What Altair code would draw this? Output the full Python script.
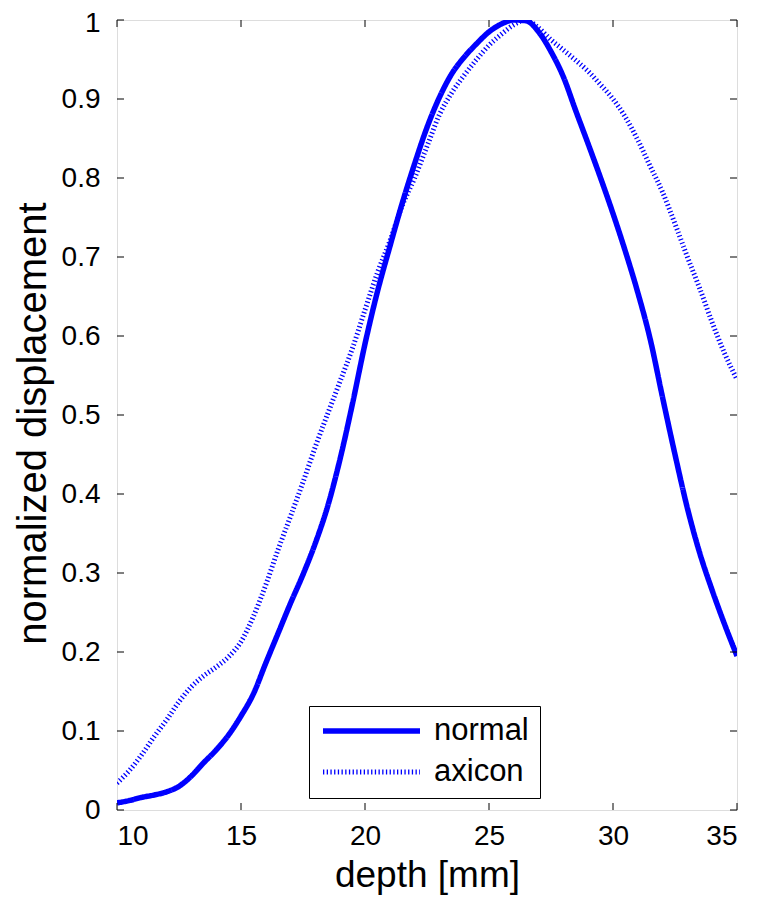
import altair as alt
import pandas as pd

# ---- data ----
series_names = ["normal", "axicon"]

depth_normal = [10, 10.5, 11, 11.5, 12, 12.5, 13, 13.5, 14, 14.5, 15, 15.5, 16, 16.5,
                17, 17.5, 18, 18.5, 19, 19.5, 20, 20.5, 21, 21.5, 22, 22.5, 23, 23.5,
                24, 24.5, 25, 25.5, 26, 26.5, 27, 27.5, 28, 28.5, 29, 29.5, 30, 30.5,
                31, 31.5, 32, 32.5, 33, 33.5, 34, 34.5, 35]
normal_vals = [0.009, 0.012, 0.016, 0.019, 0.023, 0.030, 0.043, 0.060, 0.076, 0.095,
               0.119, 0.147, 0.186, 0.224, 0.262, 0.298, 0.338, 0.385, 0.445, 0.515,
               0.590, 0.656, 0.713, 0.768, 0.818, 0.864, 0.902, 0.932, 0.953, 0.970,
               0.985, 0.995, 1.000, 0.999, 0.985, 0.960, 0.928, 0.885, 0.843, 0.800,
               0.755, 0.707, 0.655, 0.596, 0.522, 0.450, 0.382, 0.325, 0.278, 0.235,
               0.195]

depth_axicon = depth_normal
axicon_vals = [0.034, 0.050, 0.070, 0.093, 0.114, 0.137, 0.156, 0.170, 0.181, 0.194,
               0.213, 0.245, 0.285, 0.330, 0.372, 0.415, 0.460, 0.502, 0.543, 0.585,
               0.633, 0.680, 0.720, 0.765, 0.800, 0.840, 0.880, 0.908, 0.930, 0.950,
               0.968, 0.982, 0.994, 1.000, 0.990, 0.975, 0.962, 0.949, 0.935, 0.918,
               0.900, 0.877, 0.848, 0.815, 0.782, 0.742, 0.700, 0.660, 0.617, 0.578,
               0.545]

x_ticks = [10, 15, 20, 25, 30, 35]
y_ticks = [0, 0.1, 0.2, 0.3, 0.4, 0.5, 0.6, 0.7, 0.8, 0.9, 1]

df_normal = pd.DataFrame({"depth": depth_normal, "value": normal_vals, "series": "normal"})
df_axicon = pd.DataFrame({"depth": depth_axicon, "value": axicon_vals, "series": "axicon"})
df_xt = pd.DataFrame({"depth": x_ticks})
df_yt = pd.DataFrame({"value": y_ticks})

W, H = 620, 790
TL = 7
FONT = "Liberation Sans"

xs = alt.Scale(domain=[10, 35], nice=False, zero=False)
ys = alt.Scale(domain=[0, 1], nice=False, zero=False)

x_enc = alt.X("depth:Q", scale=xs,
              axis=alt.Axis(values=x_ticks, title="depth [mm]", ticks=False, domain=False,
                            grid=False, labelFontSize=28, labelFont=FONT, labelColor="black",
                            labelPadding=12, titleFontSize=37, titleFont=FONT,
                            titleFontWeight="normal", titleColor="black", titlePadding=7))
y_enc = alt.Y("value:Q", scale=ys,
              axis=alt.Axis(values=y_ticks, format="~g", title="normalized displacement",
                            ticks=False, domain=False, grid=False, labelFontSize=28,
                            labelFont=FONT, labelColor="black", labelPadding=17,
                            labelOffset={"condition": {"test": "datum.value == 1", "value": 3},
                                         "value": 0},
                            titleFontSize=40, titleFont=FONT, titleFontWeight="normal",
                            titleColor="black", titlePadding=8, titleY=403))

leg = alt.Legend(title=None, orient="none", legendX=192, legendY=686,
                 labelFont=FONT, labelFontSize=31, labelColor="black", labelOffset=11,
                 labelBaseline="middle", symbolType="stroke", symbolSize=9409,
                 clipHeight=28, rowPadding=10, padding=11, strokeColor="black",
                 fillColor="white", cornerRadius=0)
color_enc = alt.Color("series:N", scale=alt.Scale(domain=series_names, range=["#0000ff", "#0000ff"]), legend=leg)
dash_enc = alt.StrokeDash("series:N", scale=alt.Scale(domain=series_names, range=[[1, 0], [1.3, 2.4]]), legend=leg)
width_enc = alt.StrokeWidth("series:N", scale=alt.Scale(domain=series_names, range=[5.5, 5]), legend=leg)

line_normal = alt.Chart(df_normal).mark_line(interpolate="monotone", clip=True).encode(
    x=x_enc, y=y_enc, color=color_enc, strokeDash=dash_enc, strokeWidth=width_enc)
line_axicon = alt.Chart(df_axicon).mark_line(interpolate="monotone", clip=True).encode(
    x=x_enc, y=y_enc, color=color_enc, strokeDash=dash_enc, strokeWidth=width_enc)

tick_bottom = alt.Chart(df_xt).mark_rule(color="black", strokeWidth=1).encode(
    x=alt.X("depth:Q", scale=xs), y=alt.value(H), y2=alt.value(H - TL))
tick_top = alt.Chart(df_xt).mark_rule(color="black", strokeWidth=1).encode(
    x=alt.X("depth:Q", scale=xs), y=alt.value(0), y2=alt.value(TL))
tick_left = alt.Chart(df_yt).mark_rule(color="black", strokeWidth=1).encode(
    y=alt.Y("value:Q", scale=ys), x=alt.value(0), x2=alt.value(TL))
tick_right = alt.Chart(df_yt).mark_rule(color="black", strokeWidth=1).encode(
    y=alt.Y("value:Q", scale=ys), x=alt.value(W), x2=alt.value(W - TL))

chart = alt.layer(line_normal, line_axicon, tick_bottom, tick_top, tick_left, tick_right).properties(
    width=W, height=H,
    autosize=alt.AutoSizeParams(type="none"),
    padding={"left": 109, "top": 12, "right": 14, "bottom": 90},
).configure_view(
    stroke="black", strokeWidth=1
).configure(background="white")

chart.save("out.html", embed_options={"renderer": "svg", "actions": False})
